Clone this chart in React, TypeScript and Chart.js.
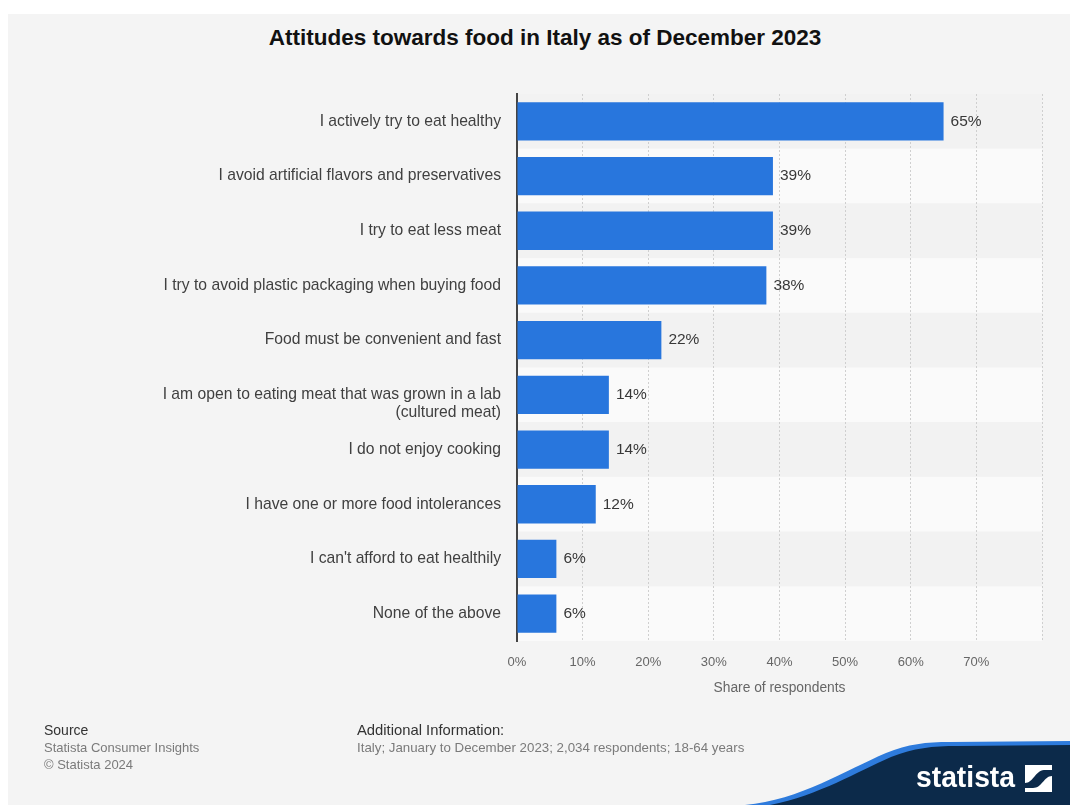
import React, { useEffect, useRef } from 'react';
import { Chart, registerables } from 'chart.js';

Chart.register(...registerables);

const categories: (string | string[])[] = [
  'I actively try to eat healthy',
  'I avoid artificial flavors and preservatives',
  'I try to eat less meat',
  'I try to avoid plastic packaging when buying food',
  'Food must be convenient and fast',
  ['', 'I am open to eating meat that was grown in a lab', '(cultured meat)'],
  'I do not enjoy cooking',
  'I have one or more food intolerances',
  "I can't afford to eat healthily",
  'None of the above',
];
const shares = [65, 39, 39, 38, 22, 14, 14, 12, 6, 6];
const xMin = 0;
const xMax = 80;
const xStep = 10;
const hiddenTick = 80;

const FONT = "'Liberation Sans', Arial, Helvetica, sans-serif";

const bandsPlugin = {
  id: 'bands',
  beforeDraw(chart: any) {
    const { ctx, chartArea, scales } = chart;
    const y = scales.y;
    const n = categories.length;
    const rowH = (chartArea.bottom - chartArea.top) / n;
    ctx.save();
    for (let i = 0; i < n; i++) {
      const cy = y.getPixelForValue(i);
      ctx.fillStyle = i % 2 === 0 ? '#f2f2f2' : '#fafafa';
      ctx.fillRect(chartArea.left, cy - rowH / 2, chartArea.right - chartArea.left, rowH);
    }
    ctx.restore();
  },
};

const valueLabelPlugin = {
  id: 'valueLabels',
  afterDatasetsDraw(chart: any) {
    const { ctx } = chart;
    const meta = chart.getDatasetMeta(0);
    ctx.save();
    ctx.font = `15.5px ${FONT}`;
    ctx.fillStyle = '#383838';
    ctx.textAlign = 'left';
    ctx.textBaseline = 'middle';
    meta.data.forEach((bar: any, i: number) => {
      ctx.fillText(`${shares[i]}%`, bar.x + 7, bar.y);
    });
    ctx.restore();
  },
};

function ChartCanvas() {
  const ref = useRef<HTMLCanvasElement | null>(null);
  useEffect(() => {
    if (!ref.current) return;
    const chart = new Chart(ref.current, {
      type: 'bar',
      data: {
        labels: categories as any,
        datasets: [
          {
            data: shares,
            backgroundColor: '#2876dd',
            borderWidth: 0,
            barPercentage: 0.7,
            categoryPercentage: 1,
          },
        ],
      },
      options: {
        indexAxis: 'y',
        animation: false,
        responsive: false,
        devicePixelRatio: 1,
        layout: { padding: { left: 0, right: 32, top: 94, bottom: 100 } },
        plugins: {
          legend: { display: false },
          tooltip: { enabled: false },
          title: { display: false },
        },
        scales: {
          x: {
            type: 'linear',
            min: xMin,
            max: xMax,
            position: 'bottom',
            ticks: {
              stepSize: xStep,
              color: '#666666',
              font: { family: FONT, size: 13 },
              padding: 14,
              callback: (v: any) => (Number(v) === hiddenTick ? '' : `${v}%`),
            },
            grid: {
              drawTicks: false,
              color: (c: any) => (c.tick && c.tick.value === 0 ? 'rgba(0,0,0,0)' : '#cfcfcf'),
              lineWidth: 1,
            },
            border: { display: false, dash: [2, 2] },
            title: {
              display: true,
              text: 'Share of respondents',
              color: '#666666',
              font: { family: FONT, size: 13.8 },
              padding: { top: 0, bottom: 9 },
            },
            afterFit: (s: any) => {
              s.height = 64;
            },
          } as any,
          y: {
            type: 'category',
            ticks: {
              autoSkip: false,
              color: '#404040',
              font: { family: FONT, size: 15.7, lineHeight: 1.15 },
              padding: 16,
            },
            grid: { display: false, drawTicks: false },
            border: { display: true, color: '#444444', width: 2 },
            afterFit: (s: any) => {
              s.width = 517;
            },
          } as any,
        },
      },
      plugins: [bandsPlugin, valueLabelPlugin],
    });
    return () => chart.destroy();
  }, []);
  return (
    <canvas
      ref={ref}
      width={1074}
      height={805}
      style={{ position: 'absolute', left: 0, top: 0, width: 1074, height: 805 }}
    />
  );
}

function Logo() {
  return (
    <svg
      width={334}
      height={70}
      viewBox="0 0 334 70"
      style={{ position: 'absolute', left: 736, top: 735 }}
    >
      <path d="M 9 70 C 64 65, 110 35, 150 18 C 172 9, 190 7, 214 7 L 334 6 L 334 70 Z" fill="#2e7bdc" />
      <path d="M 34 70 C 84 60, 120 37, 155 22 C 178 13, 196 11, 222 11 L 334 10 L 334 70 Z" fill="#0c2a4a" />
      <text
        x={180}
        y={52}
        fill="#ffffff"
        fontFamily={FONT}
        fontWeight="bold"
        fontSize={30}
        textLength={99}
        lengthAdjust="spacingAndGlyphs"
      >
        statista
      </text>
      <g transform="translate(289,30)">
        <rect x={0} y={0} width={27} height={27} fill="#ffffff" />
        <path d="M 0 18 C 8 18, 10 6, 19 5 L 27 5 L 27 11 C 19 11, 17 23, 8 23 L 0 23 Z" fill="#0c2a4a" />
      </g>
    </svg>
  );
}

const textBase: React.CSSProperties = {
  position: 'absolute',
  fontFamily: FONT,
  whiteSpace: 'nowrap',
  margin: 0,
};

export default function App() {
  return (
    <div style={{ position: 'absolute', left: 0, top: 0, width: 1074, height: 805, overflow: 'hidden', background: '#ffffff' }}>
      <div style={{ position: 'absolute', left: 8, top: 14, width: 1062, height: 791, background: '#f4f4f4' }} />
      <div
        style={{
          ...textBase,
          left: 0,
          top: 25,
          width: 1090,
          textAlign: 'center',
          fontSize: 22.5,
          lineHeight: '26px',
          fontWeight: 'bold',
          color: '#111111',
        }}
      >
        Attitudes towards food in Italy as of December 2023
      </div>
      <ChartCanvas />
      <div style={{ ...textBase, left: 44, top: 721, fontSize: 14, lineHeight: '18px', color: '#333333' }}>Source</div>
      <div style={{ ...textBase, left: 44, top: 740, fontSize: 13, lineHeight: '16px', color: '#7a7a7a' }}>
        Statista Consumer Insights
      </div>
      <div style={{ ...textBase, left: 44, top: 757, fontSize: 13, lineHeight: '16px', color: '#7a7a7a' }}>
        © Statista 2024
      </div>
      <div style={{ ...textBase, left: 357, top: 721, fontSize: 14.8, lineHeight: '18px', color: '#333333' }}>
        Additional Information:
      </div>
      <div style={{ ...textBase, left: 357, top: 740, fontSize: 13.3, lineHeight: '16px', color: '#7a7a7a' }}>
        Italy; January to December 2023; 2,034 respondents; 18-64 years
      </div>
      <Logo />
    </div>
  );
}
